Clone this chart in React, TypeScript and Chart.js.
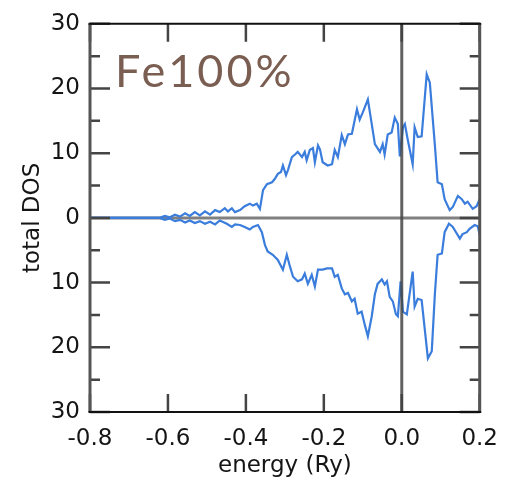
import React, { useEffect, useRef } from "react";
import { Chart, registerables } from "chart.js";

Chart.register(...registerables);

// spin-up total DOS (positive side)
const upEnergy = [
  -0.8, -0.7, -0.621, -0.608, -0.595, -0.582, -0.569, -0.556, -0.544, -0.531, -0.518, -0.505,
  -0.492, -0.479, -0.467, -0.454, -0.446, -0.436, -0.428, -0.415, -0.403, -0.39, -0.382, -0.372,
  -0.364, -0.356, -0.346, -0.333, -0.326, -0.318, -0.31, -0.305, -0.297, -0.292, -0.282, -0.274,
  -0.267, -0.256, -0.249, -0.244, -0.236, -0.228, -0.223, -0.215, -0.21, -0.203, -0.19, -0.179,
  -0.172, -0.164, -0.154, -0.146, -0.138, -0.128, -0.115, -0.108, -0.1, -0.087, -0.077, -0.069,
  -0.056, -0.049, -0.044, -0.036, -0.026, -0.018, -0.01, -0.005, 0.003, 0.008, 0.015, 0.028,
  0.033, 0.041, 0.051, 0.064, 0.072, 0.085, 0.092, 0.103, 0.11, 0.123, 0.131, 0.144, 0.154,
  0.162, 0.169, 0.182, 0.192, 0.2,
];
const upDos = [
  0, 0, 0, 0.3, 0.1, 0.5, 0.2, 0.7, 0.3, 0.9, 0.4, 1.0,
  0.5, 1.2, 0.9, 1.5, 1.0, 1.5, 0.9, 1.2, 1.8, 2.2, 1.9, 2.2,
  1.4, 4.3, 5.2, 5.5, 6.0, 6.8, 7.1, 8.1, 6.6, 7.4, 9.4, 9.8,
  10.2, 9.4, 10.2, 8.9, 10.5, 10.8, 8.6, 11.2, 10.6, 8.6, 8.1, 8.3,
  10.5, 9.4, 12.8, 11.4, 12.9, 13.0, 16.8, 15.2, 16.3, 18.3, 14.5, 11.4,
  10.2, 11.4, 9.8, 12.9, 13.2, 15.5, 14.5, 9.5, 14.0, 14.5, 12.2, 8.3,
  14.0, 12.5, 12.6, 22.2, 20.9, 11.2, 5.5, 5.2, 2.9, 1.2, 1.7, 3.4, 2.9,
  2.2, 2.5, 1.4, 1.8, 2.9,
];

// spin-down total DOS (plotted below zero)
const downEnergy = [
  -0.8, -0.7, -0.621, -0.608, -0.595, -0.582, -0.569, -0.556, -0.544, -0.531, -0.518, -0.505,
  -0.492, -0.479, -0.467, -0.449, -0.436, -0.428, -0.415, -0.403, -0.39, -0.382, -0.369, -0.359,
  -0.351, -0.344, -0.331, -0.318, -0.305, -0.295, -0.287, -0.279, -0.267, -0.256, -0.249, -0.241,
  -0.231, -0.223, -0.215, -0.203, -0.192, -0.179, -0.172, -0.164, -0.154, -0.146, -0.138, -0.128,
  -0.121, -0.113, -0.103, -0.095, -0.087, -0.077, -0.069, -0.062, -0.051, -0.044, -0.038, -0.031,
  -0.023, -0.015, -0.01, -0.003, 0.003, 0.013, 0.028, 0.033, 0.041, 0.051, 0.067, 0.077,
  0.085, 0.092, 0.103, 0.11, 0.121, 0.131, 0.149, 0.156, 0.167, 0.174, 0.187, 0.195, 0.2,
];
const downDos = [
  0, 0, 0, -0.3, -0.1, -0.5, -0.3, -0.7, -0.4, -0.8, -0.5, -0.9,
  -0.6, -1.0, -0.4, -0.9, -1.4, -1.0, -1.1, -1.4, -1.8, -1.4, -1.1, -2.2,
  -4.2, -5.2, -5.7, -6.5, -8.0, -5.7, -7.5, -9.1, -9.8, -9.5, -8.6, -10.2,
  -8.8, -10.6, -8.0, -8.0, -7.8, -7.8, -9.1, -8.8, -10.9, -11.8, -11.6, -12.9,
  -12.5, -14.8, -14.5, -16.5, -18.3, -15.2, -11.8, -10.2, -9.5, -10.3, -9.8, -12.2,
  -12.9, -14.9, -15.2, -9.8, -14.5, -14.9, -8.3, -13.7, -12.5, -12.7, -21.7, -20.6,
  -11.7, -5.7, -5.5, -2.2, -0.9, -1.4, -3.2, -2.5, -2.2, -1.7, -1.1, -1.3, -2.6,
];

const xTicks = [-0.8, -0.6, -0.4, -0.2, 0.0, 0.2];
const yMajorTicks = [-30, -20, -10, 0, 10, 20, 30];
const yMinorTicks = [-25, -15, -5, 5, 15, 25];
const titleText = "Fe100%";

const LINE_COLOR = "#3a7ddc";
const FONT = "'DejaVu Sans', sans-serif";

const framePlugin = {
  id: "framePlugin",
  beforeDatasetsDraw(chart: any) {
    const { ctx, chartArea, scales } = chart;
    const y0 = scales.y.getPixelForValue(0);
    ctx.save();
    ctx.strokeStyle = "#808080";
    ctx.lineWidth = 3;
    ctx.beginPath();
    ctx.moveTo(chartArea.left, y0);
    ctx.lineTo(chartArea.right, y0);
    ctx.stroke();
    ctx.restore();
  },
  afterDatasetsDraw(chart: any) {
    const { ctx, chartArea, scales } = chart;
    const { left, right, top, bottom } = chartArea;
    ctx.save();
    // vertical zero line
    const x0 = scales.x.getPixelForValue(0);
    ctx.strokeStyle = "rgba(70,70,70,0.85)";
    ctx.lineWidth = 3;
    ctx.beginPath();
    ctx.moveTo(x0, top);
    ctx.lineTo(x0, bottom);
    ctx.stroke();

    // ticks
    ctx.strokeStyle = "#444";
    ctx.lineWidth = 2.5;
    ctx.beginPath();
    for (const v of yMajorTicks) {
      const p = scales.y.getPixelForValue(v);
      ctx.moveTo(left, p);
      ctx.lineTo(left + 20, p);
      ctx.moveTo(right, p);
      ctx.lineTo(right - 20, p);
    }
    for (const v of yMinorTicks) {
      const p = scales.y.getPixelForValue(v);
      ctx.moveTo(left, p);
      ctx.lineTo(left + 10, p);
      ctx.moveTo(right, p);
      ctx.lineTo(right - 10, p);
    }
    for (const v of xTicks) {
      const p = scales.x.getPixelForValue(v);
      ctx.moveTo(p, bottom);
      ctx.lineTo(p, bottom - 18);
      ctx.moveTo(p, top);
      ctx.lineTo(p, top + 18);
    }
    ctx.stroke();

    // frame
    ctx.strokeStyle = "#555";
    ctx.lineWidth = 3;
    ctx.beginPath();
    ctx.moveTo(left, top);
    ctx.lineTo(left, bottom);
    ctx.moveTo(right, top);
    ctx.lineTo(right, bottom);
    ctx.stroke();
    ctx.strokeStyle = "#111";
    ctx.lineWidth = 2;
    ctx.beginPath();
    ctx.moveTo(left - 1.5, top);
    ctx.lineTo(right + 1.5, top);
    ctx.moveTo(left - 1.5, bottom);
    ctx.lineTo(right + 1.5, bottom);
    ctx.stroke();

    // label
    ctx.fillStyle = "#7b5e52";
    ctx.font = "45px Lato, 'Open Sans', sans-serif";
    (ctx as any).letterSpacing = "3px";
    ctx.textBaseline = "alphabetic";
    ctx.textAlign = "left";
    ctx.fillText(titleText, left + 25, top + 63);
    ctx.restore();
  },
};

export default function App() {
  const canvasRef = useRef<HTMLCanvasElement | null>(null);

  useEffect(() => {
    if (!canvasRef.current) return;
    const upData = upEnergy.map((e, i) => ({ x: e, y: upDos[i] }));
    const downData = downEnergy.map((e, i) => ({ x: e, y: downDos[i] }));
    const chart = new Chart(canvasRef.current, {
      type: "line",
      data: {
        datasets: [
          {
            label: "up",
            data: upData,
            borderColor: LINE_COLOR,
            borderWidth: 2.2,
            pointRadius: 0,
            tension: 0,
            fill: false,
          },
          {
            label: "down",
            data: downData,
            borderColor: LINE_COLOR,
            borderWidth: 2.2,
            pointRadius: 0,
            tension: 0,
            fill: false,
          },
        ],
      },
      options: {
        animation: false,
        responsive: true,
        maintainAspectRatio: false,
        layout: { padding: { left: 0, right: 30, top: 19, bottom: 0 } },
        plugins: {
          legend: { display: false },
          tooltip: { enabled: false },
        },
        scales: {
          x: {
            type: "linear",
            min: -0.8,
            max: 0.2,
            afterFit: (s: any) => {
              s.height = 70;
            },
            afterBuildTicks: (s: any) => {
              s.ticks = xTicks.map((v) => ({ value: v }));
            },
            ticks: {
              padding: 13,
              color: "#151515",
              font: { family: FONT, size: 23 },
              callback: (v: any) => Number(v).toFixed(1),
            },
            grid: { display: false, drawTicks: false },
            border: { display: false },
            title: {
              display: true,
              text: "energy (Ry)",
              color: "#151515",
              font: { family: FONT, size: 23 },
              padding: { top: 0, bottom: 2 },
            },
          },
          y: {
            type: "linear",
            min: -30,
            max: 30,
            afterFit: (s: any) => {
              s.width = 90;
            },
            afterBuildTicks: (s: any) => {
              s.ticks = yMajorTicks.map((v) => ({ value: v }));
            },
            ticks: {
              padding: 10,
              color: "#151515",
              font: { family: FONT, size: 23 },
              callback: (v: any) => String(Math.abs(Number(v))),
            },
            grid: { display: false, drawTicks: false },
            border: { display: false },
            title: {
              display: true,
              text: "total DOS",
              color: "#151515",
              font: { family: FONT, size: 23 },
              padding: { top: 19, bottom: 0 },
            },
          },
        },
      },
      plugins: [framePlugin],
    });
    return () => chart.destroy();
  }, []);

  return (
    <div style={{ position: "absolute", left: 0, top: 0, width: 511, height: 482 }}>
      <canvas ref={canvasRef} />
    </div>
  );
}
